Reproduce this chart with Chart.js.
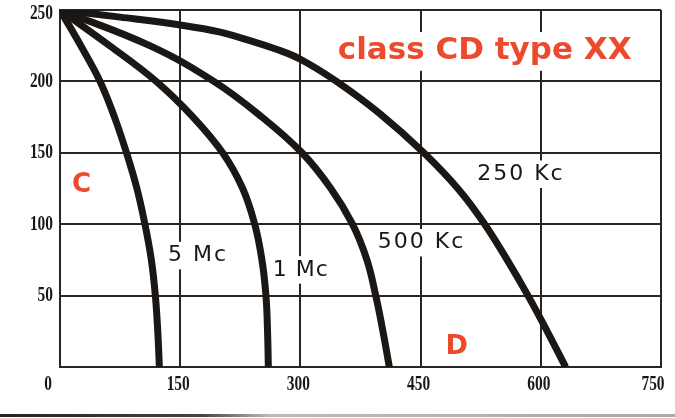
<!DOCTYPE html>
<html>
<head>
<meta charset="utf-8">
<script src="https://cdn.jsdelivr.net/npm/chart.js@4.4.1/dist/chart.umd.min.js"></script>
<style>
  body { margin: 0; background: #fff; }
  #wrap { width: 675px; height: 418px; }
</style>
</head>
<body>
<div id="wrap"><canvas id="chart" width="675" height="418"></canvas></div>
<script>
// tick values along each axis
const xTicks = [0, 150, 300, 450, 600, 750];
const yTicks = [50, 100, 150, 200, 250];

// curve names and points
const curveNames = ['5 Mc', '1 Mc', '500 Kc', '250 Kc'];

const mc5X = [0, 26, 50, 68, 83, 96, 106, 114, 119, 122, 124];
const mc5Y = [250, 225, 200, 175, 150, 125, 100, 75, 50, 25, 0];

const mc1X = [0, 62, 120, 166, 203, 228, 243, 252, 257, 259, 260];
const mc1Y = [250, 225, 200, 175, 150, 125, 100, 75, 50, 25, 0];

const kc500X = [0, 112, 192, 252, 302, 338, 365, 383, 394, 403, 411];
const kc500Y = [250, 225, 200, 175, 150, 125, 100, 75, 50, 25, 0];

const kc250X = [0, 75, 150, 200, 240, 270, 300, 345, 400, 454, 498, 530, 558, 584, 608, 631];
const kc250Y = [250, 245, 239.5, 234.5, 228, 222.5, 215.5, 200, 177, 150, 124, 100, 75, 50, 25, 0];

const red = '#ec4a2c';
const ink = '#1b1714';

// text written on the plot (placed in data units)
const notes = [
  { text: 'class CD type XX', x: 530, y: 221, color: red, size: 31, bold: true, box: true, spacing: 0 },
  { text: '250 Kc', x: 574, y: 135, color: ink, size: 22, bold: false, box: true, spacing: 2 },
  { text: '500 Kc', x: 450, y: 87, color: ink, size: 22, bold: false, box: true, spacing: 2 },
  { text: '5 Mc', x: 171, y: 78, color: ink, size: 22, bold: false, box: true, spacing: 2 },
  { text: '1 Mc', x: 300, y: 68, color: ink, size: 22, bold: false, box: true, spacing: 1 },
  { text: 'C', x: 27, y: 127, color: red, size: 26, bold: true, box: false, spacing: 0 },
  { text: 'D', x: 495, y: 14, color: red, size: 27, bold: true, box: false, spacing: 0 }
];

function toPoints(xs, ys) {
  return xs.map((x, i) => ({ x: x, y: ys[i] }));
}

const series = [
  toPoints(mc5X, mc5Y),
  toPoints(mc1X, mc1Y),
  toPoints(kc500X, kc500Y),
  toPoints(kc250X, kc250Y)
];

const notesPlugin = {
  id: 'notes',
  beforeDatasetsDraw(chart) {
    const ctx = chart.ctx;
    const xs = chart.scales.x, ys = chart.scales.y;
    ctx.save();
    notes.forEach(n => {
      const px = xs.getPixelForValue(n.x);
      const py = ys.getPixelForValue(n.y);
      ctx.font = (n.bold ? 'bold ' : '') + n.size + 'px "DejaVu Sans"';
      ctx.letterSpacing = n.spacing + 'px';
      const w = ctx.measureText(n.text).width;
      if (n.box) {
        const h = n.size * 1.25;
        ctx.fillStyle = '#fff';
        ctx.fillRect(px - w / 2 - 3, py - h / 2, w + 6, h);
      }
      ctx.fillStyle = n.color;
      ctx.textAlign = 'center';
      ctx.textBaseline = 'middle';
      ctx.fillText(n.text, px + n.spacing / 2, py);
    });
    ctx.restore();
  }
};

// condensed bold serif tick numbers
const tickPlugin = {
  id: 'tickText',
  afterDraw(chart) {
    const ctx = chart.ctx;
    const xs = chart.scales.x, ys = chart.scales.y;
    ctx.save();
    ctx.fillStyle = ink;
    ctx.font = 'bold 22px "Liberation Serif"';
    ctx.textBaseline = 'middle';
    ctx.textAlign = 'center';
    xTicks.forEach((v, i) => {
      let px = xs.getPixelForValue(v) - 2;
      if (i === 0) px -= 10;
      if (i === xTicks.length - 1) px -= 6;
      ctx.save();
      ctx.translate(px, chart.chartArea.bottom + 17);
      ctx.scale(0.7, 1);
      ctx.fillText(String(v), 0, 0);
      ctx.restore();
    });
    ctx.textAlign = 'right';
    yTicks.forEach(v => {
      const py = Math.max(ys.getPixelForValue(v), 13);
      ctx.save();
      ctx.translate(chart.chartArea.left - 7, py);
      ctx.scale(0.7, 1);
      ctx.fillText(String(v), 0, 0);
      ctx.restore();
    });
    // edge of the printed page at the bottom
    const g = ctx.createLinearGradient(0, 0, 675, 0);
    g.addColorStop(0, '#222');
    g.addColorStop(0.3, '#444');
    g.addColorStop(0.4, '#bbb');
    g.addColorStop(1, '#aaa');
    ctx.fillStyle = g;
    ctx.fillRect(0, 414, 675, 3);
    ctx.restore();
  }
};

const ctx = document.getElementById('chart').getContext('2d');
const chart = new Chart(ctx, {
  type: 'line',
  data: {
    datasets: series.map((pts, i) => ({
      label: curveNames[i],
      data: pts,
      borderColor: ink,
      borderWidth: 7,
      pointRadius: 0,
      fill: false,
      tension: 0.4
    }))
  },
  options: {
    responsive: false,
    animation: false,
    layout: { padding: { left: 60, right: 14, top: 10, bottom: 51 } },
    plugins: { legend: { display: false }, tooltip: { enabled: false } },
    scales: {
      x: {
        type: 'linear',
        min: 0,
        max: 750,
        ticks: { display: false, stepSize: 150 },
        grid: { color: '#2a2521', lineWidth: 2, drawTicks: false },
        border: { color: '#2a2521', width: 2 }
      },
      y: {
        min: 0,
        max: 250,
        ticks: { display: false, stepSize: 50 },
        grid: { color: '#2a2521', lineWidth: 2, drawTicks: false },
        border: { color: '#2a2521', width: 2 }
      }
    }
  },
  plugins: [notesPlugin, tickPlugin]
});
</script>
</body>
</html>
